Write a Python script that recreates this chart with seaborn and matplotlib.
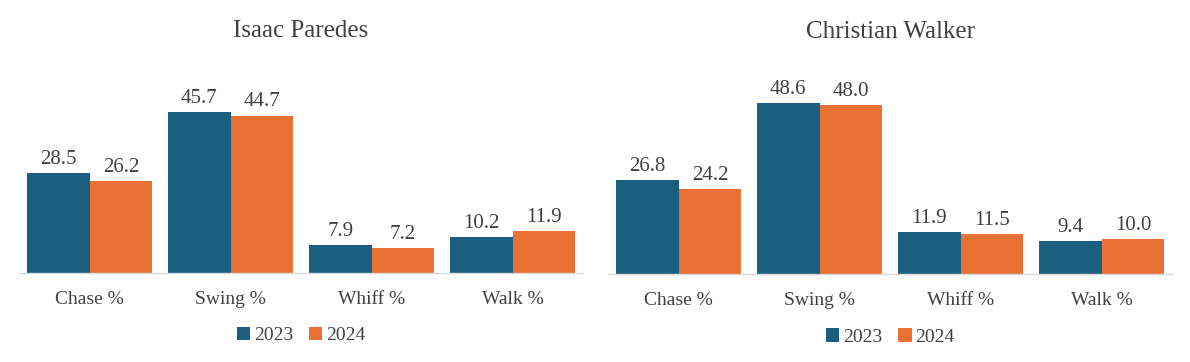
import pandas as pd
import matplotlib.pyplot as plt
import seaborn as sns

# --- Data ---
METRICS = ["Chase %", "Swing %", "Whiff %", "Walk %"]
YEARS = ["2023", "2024"]
PLAYERS = ["Isaac Paredes", "Christian Walker"]
paredes_2023 = [28.5, 45.7, 7.9, 10.2]
paredes_2024 = [26.2, 44.7, 7.2, 11.9]
walker_2023 = [26.8, 48.6, 11.9, 9.4]
walker_2024 = [24.2, 48.0, 11.5, 10.0]

BLUE = "#1a5e80"
ORANGE = "#e87133"
TXT = "#404040"

sns.set_theme(style="white")
plt.rcParams["font.family"] = ["Liberation Serif", "DejaVu Serif"]


def long_df(v23, v24):
    rows = []
    for m, a, b in zip(METRICS, v23, v24):
        rows.append({"Metric": m, "Year": YEARS[0], "Value": a})
        rows.append({"Metric": m, "Year": YEARS[1], "Value": b})
    return pd.DataFrame(rows)


fig = plt.figure(figsize=(11.9, 3.62), dpi=100)
ax_l = fig.add_axes([0.016, 0.245, 0.474, 0.585])
ax_r = fig.add_axes([0.511, 0.242, 0.474, 0.585])

for ax, name, v23, v24 in [(ax_l, PLAYERS[0], paredes_2023, paredes_2024),
                           (ax_r, PLAYERS[1], walker_2023, walker_2024)]:
    df = long_df(v23, v24)
    sns.barplot(data=df, x="Metric", y="Value", hue="Year", ax=ax,
                palette=[BLUE, ORANGE], width=0.89, gap=0, saturation=1,
                errorbar=None, linewidth=0)
    for cont in ax.containers:
        ax.bar_label(cont, fmt="%.1f", padding=3, fontsize=15, color=TXT)
    ax.set_ylim(0, 60)
    ax.set_xlim(-0.5, 3.5)
    ax.set_yticks([])
    ax.set_xlabel("")
    ax.set_ylabel("")
    for s in ["top", "right", "left"]:
        ax.spines[s].set_visible(False)
    ax.spines["bottom"].set_color("#d9d9d9")
    ax.spines["bottom"].set_linewidth(1)
    ax.tick_params(axis="x", length=0, pad=13, labelsize=14, labelcolor=TXT)
    ax.set_title(name, fontsize=18, color=TXT, pad=18)
    ax.legend(loc="upper center", bbox_to_anchor=(0.5, -0.17), ncol=2, frameon=False,
              fontsize=14, labelcolor=TXT, handlelength=0.7, handleheight=0.7,
              handletextpad=0.2, columnspacing=0.8)

fig.savefig("out.png", dpi=100, facecolor="white")
